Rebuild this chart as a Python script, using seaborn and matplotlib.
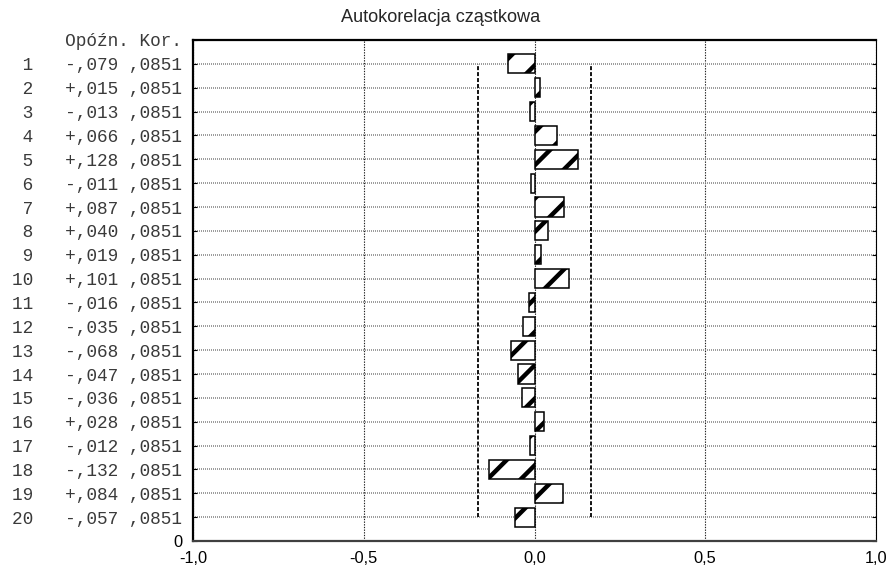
import numpy as np
import pandas as pd
import matplotlib
matplotlib.use("Agg")
import matplotlib.pyplot as plt
import seaborn as sns

# Partial autocorrelation results, lags 1..20
lags = list(range(1, 21))
pacf = [-0.079, 0.015, -0.013, 0.066, 0.128, -0.011, 0.087, 0.040, 0.019, 0.101,
        -0.016, -0.035, -0.068, -0.047, -0.036, 0.028, -0.012, -0.132, 0.084, -0.057]
std_err = [0.0851] * 20

title = "Autokorelacja cząstkowa"
header = "Opóźn. Kor."
x_ticks = [-1.0, -0.5, 0.0, 0.5, 1.0]

DPI = 100
sns.set_theme(style="white")
plt.rcParams["font.family"] = ["Liberation Sans", "DejaVu Sans"]
plt.rcParams["hatch.linewidth"] = 3.2
plt.rcParams["hatch.color"] = "black"


def fmt_r(v):
    s = f"{abs(v):.3f}".replace("0.", ",", 1)
    return ("-" if v < 0 else "+") + s


def fmt_se(v):
    return f"{v:.4f}".replace("0.", ",", 1)


n = len(lags)
pos = [n + 1 - k for k in lags]          # lag 1 at the top
df = pd.DataFrame({"pacf": pacf, "pos": pos})

fig = plt.figure(figsize=(889 / DPI, 571 / DPI), dpi=DPI)
ax = fig.add_axes([193 / 889, 30 / 571, (876 - 193) / 889, (541 - 40) / 571])

sns.barplot(data=df, x="pacf", y="pos", orient="h", native_scale=True,
            width=0.8, color="white", saturation=1, errorbar=None,
            edgecolor="black", linewidth=1.1, hatch="/", ax=ax, zorder=3)

# 95% confidence limits
lim = [1.96 * s for s in std_err]
ax.vlines([-lim[0], lim[0]], min(pos), max(pos), colors="black",
          linewidth=1.3, linestyles=(0, (2.2, 1.1)), zorder=2)

ax.set_xlim(-1, 1)
ax.set_ylim(0, n + 1)
ax.set_xlabel("")
ax.set_ylabel("")

ax.set_xticks(x_ticks, [f"{t:.1f}".replace(".", ",") for t in x_ticks])

ytick_pos = [0] + pos + [n + 1]
ytick_lab = ["0"] + [f"{k:>2}   {fmt_r(r)} {fmt_se(s)}" for k, r, s in zip(lags, pacf, std_err)] \
    + ["     " + header]
ax.set_yticks(ytick_pos, ytick_lab)

ax.tick_params(axis="y", which="both", direction="in", length=2.9, width=0.8,
               pad=7.6, left=True, right=True, colors="black")
ax.tick_params(axis="x", direction="in", length=0, pad=7.2, labelsize=11.8,
               labelcolor="black")
for i, t in enumerate(ax.get_yticklabels()):
    if i == 0:
        t.set_fontfamily(["Liberation Sans", "DejaVu Sans"])
        t.set_fontsize(11.8)
    else:
        t.set_fontfamily(["Liberation Mono", "DejaVu Sans Mono"])
        t.set_fontsize(12.8)
        t.set_color("#3a3a3a")

ax.grid(axis="y", color="#8a8a8a", linewidth=1.2, linestyle=(0, (0.6, 0.6)))
ax.grid(axis="x", color="#202020", linewidth=0.8, linestyle=(0, (1.2, 1.2)))
ax.set_axisbelow(True)

for side, lw, col in [("top", 1.6, "black"), ("left", 1.6, "black"),
                      ("bottom", 1.6, "#404040"), ("right", 0.8, "black")]:
    ax.spines[side].set_visible(True)
    ax.spines[side].set_linewidth(lw)
    ax.spines[side].set_color(col)

fig.text(441 / 889, 1 - 17.5 / 571, title, ha="center", va="center", fontsize=13.1)

fig.savefig("out.png", dpi=DPI)
